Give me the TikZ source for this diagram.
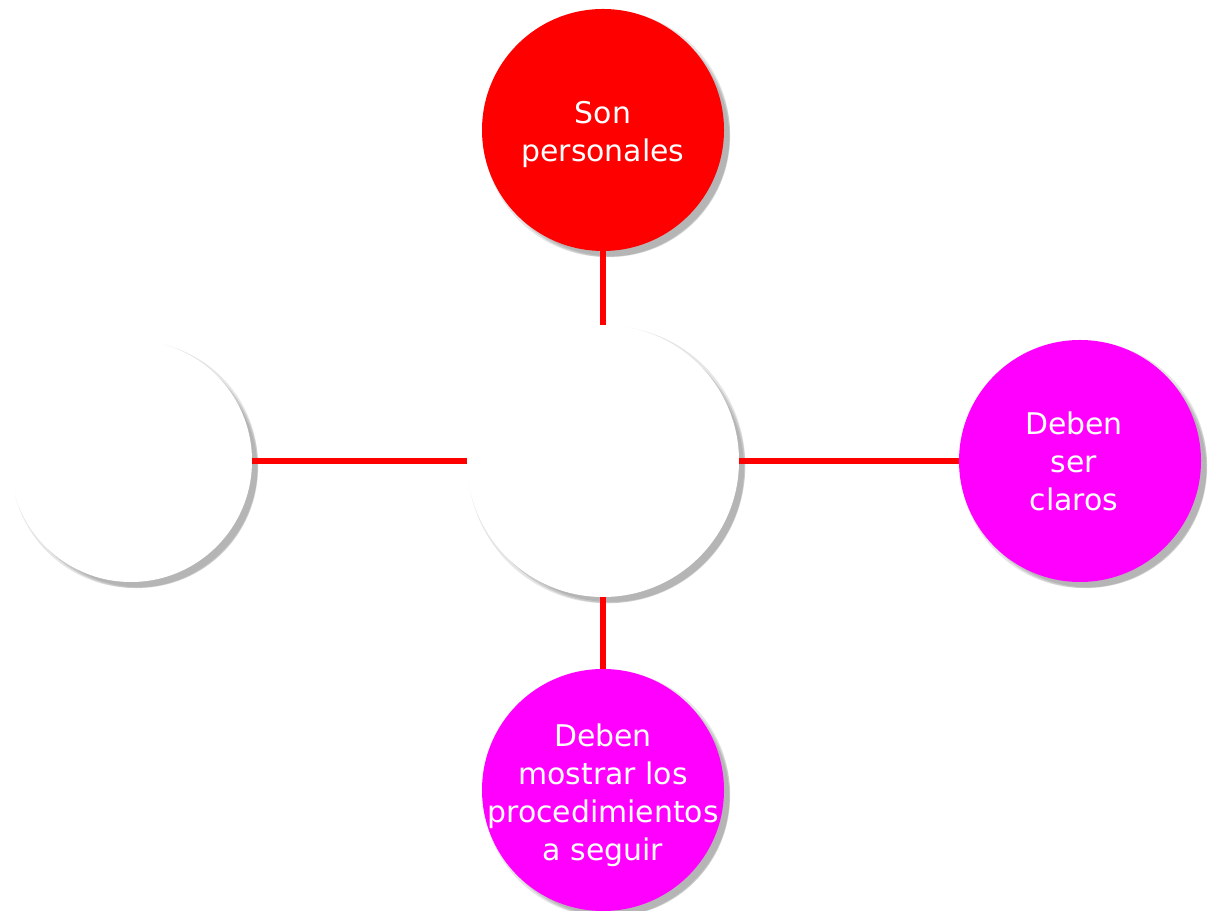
\documentclass[tikz,border=0pt]{standalone}
\usepackage{fontspec}
\setmainfont{DejaVu Sans}
\usepackage{tikz}
\usetikzlibrary{shadows}
\usepackage{xcolor}

\definecolor{topred}{HTML}{FF0000}
\definecolor{pinkish}{HTML}{FF00FF}

\tikzset{
    softshadow/.style={
        drop shadow={shadow xshift=2pt, shadow yshift=-2pt, shadow scale=1.02, fill=black, opacity=0.10},
        drop shadow={shadow xshift=3.5pt, shadow yshift=-3.5pt, fill=black, opacity=0.12},
        drop shadow={shadow xshift=4.5pt, shadow yshift=-4.5pt, shadow scale=0.98, fill=black, opacity=0.10}},
    bubble/.style={circle, minimum size=4.84cm, inner sep=0pt, softshadow},
    bubbletext/.style={align=center, text=white, inner sep=0pt,
        font=\fontsize{17}{21.6}\selectfont},
    link/.style={draw=topred, line width=2.9pt},
}

\begin{document}
\begin{tikzpicture}
    \useasboundingbox (0,0) rectangle (24.16,18.22);

    \node[bubble, fill=white, minimum size=5.44cm] (centre) at (12.06,9.0) {};
    \node[bubble, fill=topred, label={[bubbletext, yshift=-0.1cm]center:Son\\personales}] (personal) at (12.06,15.62) {};
    \node[bubble, fill=white]   (blank)    at (2.62,9.0)    {};
    \node[bubble, fill=pinkish, label={[bubbletext, xshift=-0.12cm]center:Deben\\ser\\claros}] (clear) at (21.6,9.0) {};
    \node[bubble, fill=pinkish, label={[bubbletext, yshift=-0.1cm]center:Deben\\mostrar los\\procedimientos\\a seguir}] (steps) at (12.06,2.42) {};

    \draw[link] (personal) -- (centre);
    \draw[link] (blank) -- (centre);
    \draw[link] (centre) -- (clear);
    \draw[link] (centre) -- (steps);

\end{tikzpicture}
\end{document}
